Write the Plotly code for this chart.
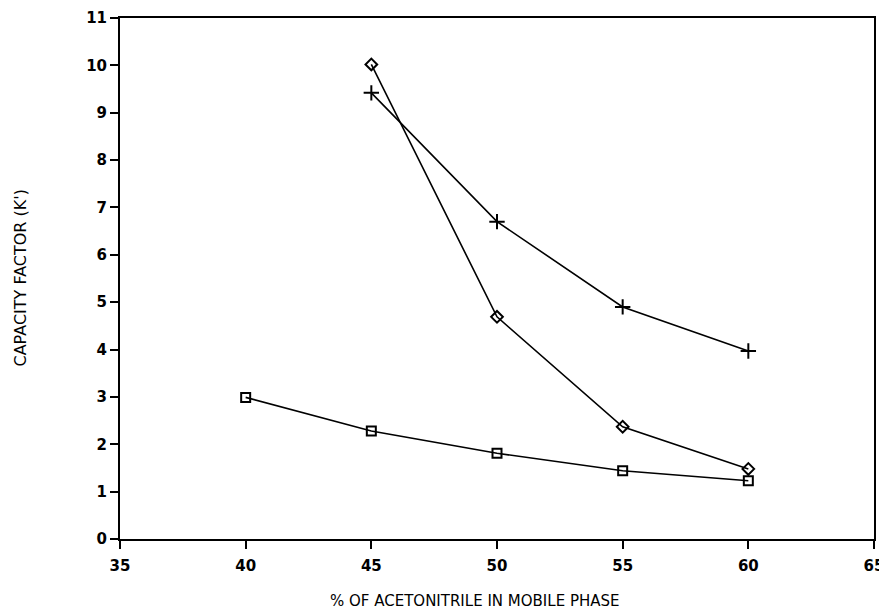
import plotly.graph_objects as go

x_plus = [45, 50, 55, 60]
y_plus = [9.42, 6.70, 4.90, 3.97]
x_diamond = [45, 50, 55, 60]
y_diamond = [10.02, 4.69, 2.37, 1.48]
x_square = [40, 45, 50, 55, 60]
y_square = [2.99, 2.28, 1.81, 1.44, 1.23]

x_ticks = [35, 40, 45, 50, 55, 60, 65]
y_ticks = list(range(0, 12))

line = dict(color="black", width=1.6)
fig = go.Figure()
fig.add_trace(go.Scatter(x=x_square, y=y_square, mode="lines+markers", line=line,
                         marker=dict(symbol="square-open", size=9, color="black", line=dict(width=2))))
fig.add_trace(go.Scatter(x=x_diamond, y=y_diamond, mode="lines+markers", line=line,
                         marker=dict(symbol="diamond-open", size=9, color="black", line=dict(width=2))))
fig.add_trace(go.Scatter(x=x_plus, y=y_plus, mode="lines+markers", line=line,
                         marker=dict(symbol="cross-thin", size=11, color="black", line=dict(width=2, color="black"))))

tickfont = dict(family="DejaVu Sans", size=15, color="black")
fig.update_layout(
    width=879, height=605,
    margin=dict(l=112, r=13, t=10, b=74),
    paper_bgcolor="white", plot_bgcolor="white",
    showlegend=False,
    font=dict(family="DejaVu Sans", color="black"),
    xaxis=dict(range=[35, 65], tickvals=x_ticks, ticktext=[f"<b>{v}</b>" for v in x_ticks],
               showgrid=False, zeroline=False, showline=True, linecolor="black", linewidth=2,
               mirror=True, ticks="outside", ticklen=8, tickwidth=1.5, tickcolor="black",
               tickfont=tickfont, automargin=False, ticklabelstandoff=4),
    yaxis=dict(range=[0, 11], tickvals=y_ticks, ticktext=[f"<b>{v}</b>" for v in y_ticks],
               showgrid=False, zeroline=False, showline=True, linecolor="black", linewidth=2,
               mirror=True, ticks="outside", ticklen=8, tickwidth=1.5, tickcolor="black",
               tickfont=tickfont, automargin=False),
    annotations=[
        dict(text="% OF ACETONITRILE IN MOBILE PHASE", xref="paper", yref="paper",
             x=0.47, y=0, yshift=-62, xanchor="center", yanchor="middle", showarrow=False,
             font=dict(family="DejaVu Sans", size=15, color="black")),
        dict(text="CAPACITY FACTOR (K')", xref="paper", yref="paper",
             x=0, y=0.5, xshift=-100, xanchor="center", yanchor="middle", textangle=-90,
             showarrow=False, font=dict(family="DejaVu Sans", size=16, color="black")),
    ],
)
fig.write_html("out.html")
